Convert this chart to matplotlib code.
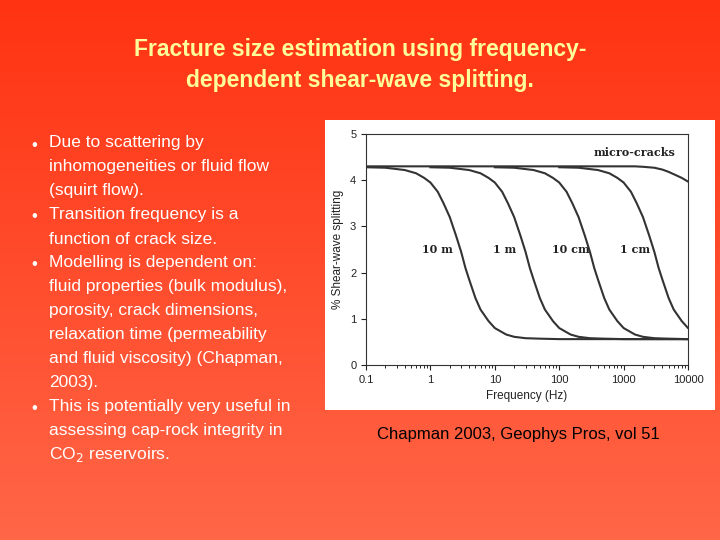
import numpy as np
import matplotlib.pyplot as plt

# curve readings: frequency (Hz) and % shear-wave splitting (10 m curve; others shift by a decade)
freq = [0.1, 0.2, 0.4, 0.6, 0.8, 1, 1.3, 1.6, 2, 2.5, 3, 3.5, 4, 5, 6, 8, 10, 15, 20, 30, 50, 100, 1e5]
split_shape = [4.28, 4.27, 4.22, 4.15, 4.05, 3.95, 3.75, 3.5, 3.2, 2.8, 2.45, 2.1, 1.85, 1.45, 1.2, 0.95,
               0.8, 0.66, 0.61, 0.58, 0.57, 0.56, 0.56]
curve_labels = ['10 m', '1 m', '10 cm', '1 cm']
curve_shift = [1, 10, 100, 1000]
micro_freq = [0.1, 100, 1000, 1500, 2000, 3000, 4000, 5000, 6000, 8000, 10000]
micro_split = [4.3, 4.3, 4.3, 4.3, 4.29, 4.27, 4.23, 4.18, 4.13, 4.05, 3.97]
label_x = [1.3, 14, 150, 1500]
title = 'Fracture size estimation using frequency-\ndependent shear-wave splitting.'
bullets = [
    ['Due to scattering by', 'inhomogeneities or fluid flow', '(squirt flow).'],
    ['Transition frequency is a', 'function of crack size.'],
    ['Modelling is dependent on:', 'fluid properties (bulk modulus),', 'porosity, crack dimensions,',
     'relaxation time (permeability', 'and fluid viscosity) (Chapman,', '2003).'],
    ['This is potentially very useful in', 'assessing cap-rock integrity in', 'CO$_2$ reservoirs.'],
]

fig = plt.figure(figsize=(7.2, 5.4), dpi=100)
plt.rcParams['font.family'] = ['Liberation Sans', 'DejaVu Sans']

# background gradient
bg = fig.add_axes([0, 0, 1, 1])
g = np.linspace(0, 1, 256)[:, None]
top = np.array([1.0, 0.20, 0.07])
bot = np.array([1.0, 0.40, 0.28])
img = top + (bot - top) * g[..., None]
bg.imshow(np.repeat(img, 2, axis=1), aspect='auto', extent=[0, 1, 0, 1])
bg.set_xlim(0, 1); bg.set_ylim(0, 1); bg.axis('off')

fig.text(0.5, 0.88, title, ha='center', va='center', fontsize=16.5,
         fontweight='bold', color='#FFFF99', linespacing=1.45)

ypx = 143
for b in bullets:
    fig.text(0.043, 1 - (ypx + 2) / 540, '\u2022', fontsize=12, color='white', va='center')
    for line in b:
        fig.text(0.068, 1 - ypx / 540, line, fontsize=12.5, color='white', va='center')
        ypx += 24

fig.text(0.72, 1 - 435 / 540, 'Chapman 2003, Geophys Pros, vol 51',
         ha='center', va='center', fontsize=12, color='black')

# white inset panel
panel = fig.add_axes([325 / 720, 1 - 410 / 540, 390 / 720, 290 / 540])
panel.set_facecolor('white')
panel.set_xticks([]); panel.set_yticks([])
for s in panel.spines.values():
    s.set_visible(False)

ax = fig.add_axes([366 / 720, 1 - 365 / 540, 322 / 720, 231 / 540])
ax.set_facecolor('white')
for sh, lab, lx in zip(curve_shift, curve_labels, label_x):
    ax.plot(np.array(freq) * sh, split_shape, color='#333333', lw=1.5)
    ax.text(lx, 2.5, lab, fontsize=8, fontweight='bold', family='DejaVu Serif',
            ha='center', va='center', color='#222222')
ax.plot(micro_freq, micro_split, color='#333333', lw=1.5)
ax.text(1500, 4.6, 'micro-cracks', fontsize=8, fontweight='bold',
        family='DejaVu Serif', ha='center', va='center', color='#222222')
ax.set_xscale('log')
ax.set_xlim(0.1, 10000)
ax.set_ylim(0, 5)
ax.set_xticks([0.1, 1, 10, 100, 1000, 10000])
ax.set_xticklabels(['0.1', '1', '10', '100', '1000', '10000'])
ax.tick_params(labelsize=8, colors='#222222')
ax.set_xlabel('Frequency (Hz)', fontsize=8.5, color='#222222')
ax.set_ylabel('% Shear-wave splitting', fontsize=8.5, color='#222222')
for s in ax.spines.values():
    s.set_color('#333333')

fig.savefig('out.png', dpi=100)
